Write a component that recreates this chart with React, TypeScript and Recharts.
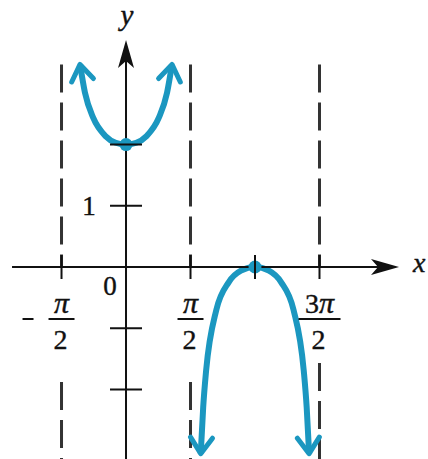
import React from 'react';
import { LineChart, Line, XAxis, YAxis, ReferenceLine, ReferenceDot } from 'recharts';

// y = sec x + 1
const upperX = [-1.12, -1.0, -0.8, -0.5, -0.25, 0, 0.25, 0.5, 0.8, 1.0, 1.12];
const upperY = [3.31, 2.85, 2.44, 2.14, 2.03, 2, 2.03, 2.14, 2.44, 2.85, 3.31];
const lowerX = [1.82, 1.88, 1.95, 2.2, 2.5, 2.8, 3.1416, 3.48, 3.78, 4.08, 4.33, 4.40, 4.46];
const lowerY = [-3.05, -2.29, -1.7, -0.7, -0.25, -0.06, 0, -0.06, -0.25, -0.7, -1.7, -2.29, -3.05];

const HALF_PI = Math.PI / 2;
const xTicks = [-HALF_PI, HALF_PI, Math.PI, 3 * HALF_PI];
const yTicks = [2, 1, -1, -2];
const asymptotes = [-HALF_PI, HALF_PI, 3 * HALF_PI];
const asymptoteLowStart = [-1.88, -1.88, -1.57];
const xLabelValues = [-HALF_PI, HALF_PI, 3 * HALF_PI];
const xLabelCoef = ['', '', '3'];
const xLabelSigns = ['−', '', ''];
const xAxisExtent = [-2.776, 6.649];
const yAxisExtent = [-3.3, 3.709];

const upper = upperX.map((x, i) => ({ x, y: upperY[i] }));
const lower = lowerX.map((x, i) => ({ x, y: lowerY[i] }));

const W = 428;
const H = 459;
const TEAL = '#1b97c0';
const INK = '#111';
const FONT = '"Liberation Serif", "DejaVu Serif", serif';

const Markers = () => (
  <svg width={0} height={0} style={{ position: 'absolute' }}>
    <defs>
      <marker id="open-arrow" markerUnits="userSpaceOnUse" markerWidth={40} markerHeight={40}
        refX={20} refY={20} orient="auto-start-reverse" overflow="visible">
        <path d="M4 9 L20 20 L4 31" fill="none" stroke={TEAL} strokeWidth={5}
          strokeLinecap="round" strokeLinejoin="round" />
      </marker>
    </defs>
  </svg>
);

const textStyle = { fontFamily: FONT, fill: INK, stroke: INK, strokeWidth: 0.4 };

const App: React.FC = () => {
  return (
    <div style={{ position: 'absolute', left: 0, top: 0, width: W, height: H, background: '#fff' }}>
      <Markers />
      <LineChart width={W} height={H} margin={{ top: 0, right: 0, bottom: 0, left: 0 }}>
        <XAxis type="number" dataKey="x" domain={[-3.069, 7.355]} hide allowDataOverflow />
        <YAxis type="number" dataKey="y" domain={[-3.137, 4.363]} hide allowDataOverflow />

        {asymptotes.map((a, i) => (
          <ReferenceLine key={`top-${i}`} segment={[{ x: a, y: 3.31 }, { x: a, y: 0 }]}
            stroke="#333" strokeWidth={3} strokeDasharray="28 10" ifOverflow="visible" />
        ))}
        {asymptotes.map((a, i) => (
          <ReferenceLine key={`low-${i}`} segment={[{ x: a, y: asymptoteLowStart[i] }, { x: a, y: -3.3 }]}
            stroke="#333" strokeWidth={3} strokeDasharray="28 10" ifOverflow="visible" />
        ))}

        <Line data={upper} dataKey="y" type="monotone" stroke={TEAL} strokeWidth={6} dot={false}
          activeDot={false} markerStart="url(#open-arrow)" markerEnd="url(#open-arrow)" isAnimationActive={false} />
        <Line data={lower} dataKey="y" type="monotone" stroke={TEAL} strokeWidth={6} dot={false}
          activeDot={false} markerStart="url(#open-arrow)" markerEnd="url(#open-arrow)" isAnimationActive={false} />

        <ReferenceDot x={0} y={2} r={6.5} fill={TEAL} stroke="none" ifOverflow="visible" />
        <ReferenceDot x={Math.PI} y={0} r={6.5} fill={TEAL} stroke="none" ifOverflow="visible" />

        {/* axes */}
        <ReferenceLine segment={[{ x: xAxisExtent[0], y: 0 }, { x: xAxisExtent[1] - 0.3, y: 0 }]}
          stroke={INK} strokeWidth={2} ifOverflow="visible" />
        <ReferenceLine segment={[{ x: 0, y: yAxisExtent[0] }, { x: 0, y: yAxisExtent[1] - 0.2 }]}
          stroke={INK} strokeWidth={2} ifOverflow="visible" />
        <ReferenceDot x={xAxisExtent[1]} y={0} ifOverflow="visible"
          shape={(p: any) => (
            <path d={`M${p.cx} ${p.cy} L${p.cx - 28} ${p.cy - 8} L${p.cx - 21} ${p.cy} L${p.cx - 28} ${p.cy + 8} Z`} fill={INK} />
          )} />
        <ReferenceDot x={0} y={yAxisExtent[1]} ifOverflow="visible"
          shape={(p: any) => (
            <path d={`M${p.cx} ${p.cy} L${p.cx - 8} ${p.cy + 28} L${p.cx} ${p.cy + 21} L${p.cx + 8} ${p.cy + 28} Z`} fill={INK} />
          )} />

        {xTicks.map((t, i) => (
          <ReferenceDot key={`xt-${i}`} x={t} y={0} ifOverflow="visible"
            shape={(p: any) => (
              <line x1={p.cx} x2={p.cx} y1={p.cy - 12} y2={p.cy + 12} stroke={INK} strokeWidth={2} />
            )} />
        ))}
        {yTicks.map((t, i) => (
          <ReferenceDot key={`yt-${i}`} x={0} y={t} ifOverflow="visible"
            shape={(p: any) => (
              <line x1={p.cx - 16} x2={p.cx + 16} y1={p.cy} y2={p.cy} stroke={INK} strokeWidth={2} />
            )} />
        ))}

        {xLabelValues.map((v, i) => (
          <ReferenceDot key={`xl-${i}`} x={v} y={0} ifOverflow="visible"
            shape={(p: any) => {
              const half = xLabelCoef[i] ? 21 : 13;
              return (
                <g style={textStyle} fontSize={28}>
                  <text x={p.cx} y={p.cy + 46} textAnchor="middle">
                    {xLabelCoef[i]}
                    <tspan fontStyle="italic" fontSize={30}>π</tspan>
                  </text>
                  <line x1={p.cx - half} x2={p.cx + half} y1={p.cy + 52} y2={p.cy + 52} stroke={INK} strokeWidth={2} />
                  <text x={p.cx - 1} y={p.cy + 82} textAnchor="middle">2</text>
                  {xLabelSigns[i] && (
                    <line x1={p.cx - 39} x2={p.cx - 28} y1={p.cy + 52} y2={p.cy + 52} stroke={INK} strokeWidth={2} />
                  )}
                </g>
              );
            }} />
        ))}

        <ReferenceDot x={0} y={1} ifOverflow="visible"
          shape={(p: any) => (
            <text x={p.cx - 37} y={p.cy + 9} textAnchor="middle" style={textStyle} fontSize={27}>1</text>
          )} />
        <ReferenceDot x={0} y={0} ifOverflow="visible"
          shape={(p: any) => (
            <text x={p.cx - 16} y={p.cy + 28} textAnchor="middle" style={textStyle} fontSize={27}>0</text>
          )} />
        <ReferenceDot x={0} y={yAxisExtent[1]} ifOverflow="visible"
          shape={(p: any) => (
            <text x={p.cx + 1} y={p.cy - 15} textAnchor="middle" style={textStyle} fontSize={29}
              fontStyle="italic">y</text>
          )} />
        <ReferenceDot x={xAxisExtent[1]} y={0} ifOverflow="visible"
          shape={(p: any) => (
            <text x={p.cx + 14} y={p.cy + 5} textAnchor="start" style={textStyle} fontSize={28}
              fontStyle="italic">x</text>
          )} />
      </LineChart>
    </div>
  );
};

export default App;
